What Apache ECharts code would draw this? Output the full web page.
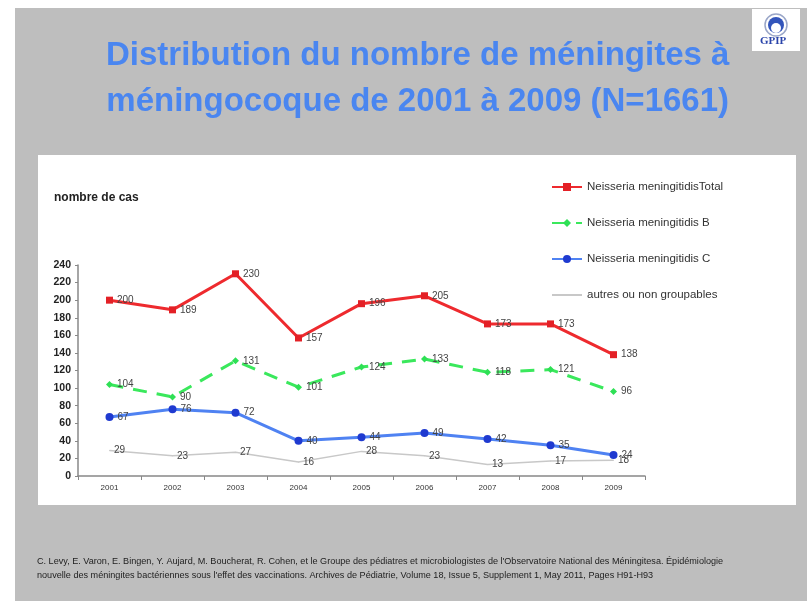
<!DOCTYPE html>
<html>
<head>
<meta charset="utf-8">
<script src="https://cdn.jsdelivr.net/npm/echarts@6/dist/echarts.min.js"></script>
<style>
  html, body { margin: 0; padding: 0; background: #fff; }
  #chart { width: 807px; height: 601px; }
</style>
</head>
<body>
<div id="chart"></div>
<script>
// données
const years = ['2001', '2002', '2003', '2004', '2005', '2006', '2007', '2008', '2009']
const totalData = [200, 189, 230, 157, 196, 205, 173, 173, 138]
const bData = [104, 90, 131, 101, 124, 133, 118, 121, 96]
const cData = [67, 76, 72, 40, 44, 49, 42, 35, 24]
const autresData = [29, 23, 27, 16, 28, 23, 13, 17, 18]
const seriesNames = ['Neisseria meningitidisTotal', 'Neisseria meningitidis B', 'Neisseria meningitidis C', 'autres ou non groupables']

const font = 'Liberation Sans, Arial, sans-serif'

const chart = echarts.init(document.getElementById('chart'))

// étiquettes à droite des points
const labelStyle = {
  show: true,
  position: 'right',
  distance: 4,
  color: '#444',
  fontSize: 10,
  fontFamily: font
}

chart.setOption({
  animation: false,
  textStyle: { fontFamily: font },
  graphic: [
    { type: 'rect', z: -10, shape: { x: 15, y: 8, width: 792, height: 593 }, style: { fill: '#bebebe' } },
    { type: 'rect', z: -9, shape: { x: 38, y: 155, width: 758, height: 350 }, style: { fill: '#fff' } },
    {
      type: 'text', left: 106, top: 33, z: 5,
      style: {
        text: 'Distribution du nombre de méningites à\nméningocoque de 2001 à 2009 (N=1661)',
        fill: '#4a86f0', font: 'bold 33px Liberation Sans, Arial, sans-serif',
        textAlign: 'center', lineHeight: 46
      }
    },
    {
      type: 'text', left: 54, top: 192,
      style: { text: 'nombre de cas', fill: '#222', font: 'bold 12px Liberation Sans, Arial, sans-serif' }
    },
    {
      type: 'text', left: 37, top: 554,
      style: {
        text: 'C. Levy, E. Varon, E. Bingen, Y. Aujard, M. Boucherat, R. Cohen, et le Groupe des pédiatres et microbiologistes de l\'Observatoire National des Méningitesa. Épidémiologie\nnouvelle des méningites bactériennes sous l\'effet des vaccinations. Archives de Pédiatrie, Volume 18, Issue 5, Supplement 1, May 2011, Pages H91-H93',
        fill: '#222', font: '9.1px Liberation Sans, Arial, sans-serif', lineHeight: 14
      }
    },
    // logo GPIP
    { type: 'rect', shape: { x: 752, y: 9, width: 48, height: 42 }, style: { fill: '#fff' } },
    { type: 'circle', shape: { cx: 776, cy: 25, r: 11 }, style: { fill: '#fff', stroke: '#9aa6c8', lineWidth: 1.5 } },
    { type: 'circle', shape: { cx: 776, cy: 25, r: 8 }, style: { fill: '#3355bb' } },
    { type: 'circle', shape: { cx: 776, cy: 28, r: 5 }, style: { fill: '#fff' } },
    {
      type: 'text', left: 760, top: 36,
      style: { text: 'GPIP', fill: '#2a44aa', font: 'bold 11px Liberation Serif, serif' }
    }
  ],
  legend: {
    orient: 'vertical',
    left: 546,
    top: 176,
    itemWidth: 30,
    itemHeight: 10,
    itemGap: 24,
    textStyle: { color: '#333', fontSize: 11.5, fontFamily: font },
    data: [
      seriesNames[0],
      seriesNames[1],
      seriesNames[2],
      { name: seriesNames[3], itemStyle: { opacity: 0 } }
    ]
  },
  grid: { left: 78, right: 162, top: 265, bottom: 125 },
  xAxis: {
    type: 'category',
    data: years,
    axisLine: { lineStyle: { color: '#888', width: 1.5 } },
    axisTick: { show: true, length: 4, lineStyle: { color: '#888' } },
    axisLabel: { color: '#333', fontSize: 8, margin: 8 }
  },
  yAxis: {
    type: 'value',
    min: 0,
    max: 240,
    interval: 20,
    axisLine: { show: true, lineStyle: { color: '#888', width: 1.5 } },
    axisTick: { show: true, length: 3, lineStyle: { color: '#888' } },
    splitLine: { show: false },
    axisLabel: { color: '#222', fontSize: 10.5, fontWeight: 'bold', margin: 7 }
  },
  series: [
    {
      name: seriesNames[0],
      type: 'line',
      data: totalData,
      symbol: 'rect',
      symbolSize: 7,
      lineStyle: { color: '#ee2a2e', width: 3 },
      itemStyle: { color: '#e32026' },
      label: labelStyle,
      z: 4
    },
    {
      name: seriesNames[1],
      type: 'line',
      data: bData,
      symbol: 'diamond',
      symbolSize: 7,
      lineStyle: { color: '#3ae85c', width: 3, type: [14, 10] },
      itemStyle: { color: '#2ee055' },
      label: labelStyle,
      z: 3
    },
    {
      name: seriesNames[2],
      type: 'line',
      data: cData,
      symbol: 'circle',
      symbolSize: 8,
      lineStyle: { color: '#4f82f2', width: 3 },
      itemStyle: { color: '#1f3ad0' },
      label: labelStyle,
      z: 2
    },
    {
      name: seriesNames[3],
      type: 'line',
      data: autresData,
      symbol: 'circle',
      symbolSize: 1,
      lineStyle: { color: '#c8c8c8', width: 1.5 },
      itemStyle: { color: '#c8c8c8' },
      label: labelStyle,
      labelLayout: { hideOverlap: false },
      z: 1
    }
  ]
})
</script>
</body>
</html>
